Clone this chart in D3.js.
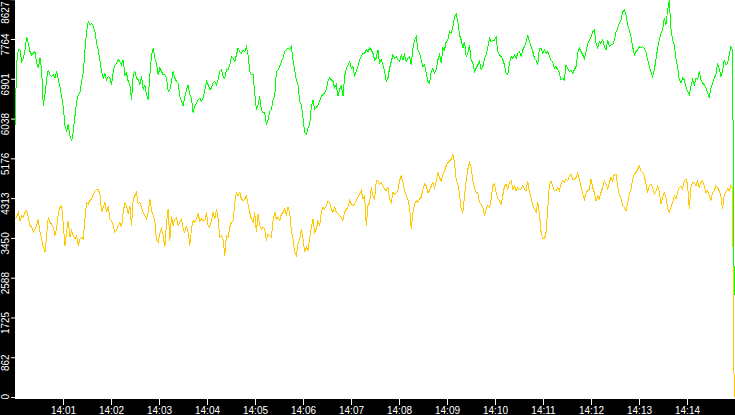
<!DOCTYPE html>
<html>
<head>
<meta charset="utf-8">
<script src="https://cdn.jsdelivr.net/npm/d3@7"></script>
<style>
    html, body { margin: 0; padding: 0; background: #000; }
    svg { display: block; }
</style>
</head>
<body>
<svg id="chart"></svg>
<script>
// first and last sample time, samples are evenly spaced in between
const startTime = new Date(2024, 0, 1, 14, 0, 0);
const endTime = new Date(2024, 0, 1, 14, 14, 59);

// x axis tick labels (one per minute)
const timeTicks = ["14:01", "14:02", "14:03", "14:04", "14:05", "14:06", "14:07",
    "14:08", "14:09", "14:10", "14:11", "14:12", "14:13", "14:14"];

// y axis tick labels
const valueTicks = [0, 862, 1725, 2588, 3450, 4313, 5176, 6038, 6901, 7764, 8627];

// green series
const greenValues = [
    5873,7239,7527,7527,7275,7347,7527,7814,7670,7491,
    7419,7455,7491,7239,7131,7347,7095,6305,6556,6880,
    7095,6987,6952,6987,6916,7059,6880,6736,6520,6305,
    5873,5765,5909,5657,5550,5765,6089,6412,6556,6592,
    6844,7023,7527,7922,8138,8066,8102,8030,7922,7670,
    7527,7311,7059,6916,7023,6880,6952,6916,6772,7059,
    7203,7239,7311,7275,7203,7311,6987,7023,6844,6772,
    6448,6987,7059,6916,6880,6772,6952,6664,6772,6556,
    6448,6987,7419,7563,7347,7239,6987,7131,7059,6987,
    6987,6916,6628,6664,6844,7059,6916,6844,6808,6520,
    6412,6305,6520,6664,6772,6556,6484,6161,6305,
    6376,6448,6484,6412,6484,6664,6844,6772,6664,6700,
    6808,6844,6772,6880,7059,7095,6952,6916,7095,7095,
    7203,7383,7347,7275,7419,7563,7491,7455,7527,7491,
    7599,7419,7059,6987,6987,6592,6233,6340,6520,6233,
    6161,6161,5909,6017,6197,6233,6448,6520,7059,7095,
    7167,7275,7347,7491,7527,7563,7527,7599,7311,7095,
    6880,6772,6412,6340,6053,5729,5693,5837,5909,6305,
    6448,6233,6269,6340,6412,6520,6556,6592,6664,6844,
    6916,6880,6844,6700,6772,6520,6664,6772,6520,6952,
    7131,7203,7275,7131,7167,6952,7059,7167,7311,7383,
    7455,7455,7527,7491,7563,7527,7455,7311,
    7347,7527,7239,7311,7203,7059,6844,6916,7131,7275,
    7419,7347,7383,7311,7275,7419,7311,7419,7275,7347,
    7383,7203,7563,7742,7814,7527,7455,7311,7167,7203,
    7023,6844,6808,7059,7131,7023,7095,7311,7419,7239,
    7563,7527,7706,7742,7922,7886,8030,8246,8317,8138,
    7850,7742,7563,7706,7383,7455,7635,7311,7239,7059,
    7131,7203,7275,7095,7167,7347,7419,7599,7778,7706,
    7742,7742,7814,7491,7419,7383,7311,7203,7023,6987,
    7239,7383,7347,7419,7347,7455,7491,7383,7527,7599,
    7706,7850,7706,7599,7491,7347,7311,7203,7563,7563,
    7455,7527,7455,7491,7383,7311,7275,7131,
    7167,7095,7023,6880,6916,6880,7203,7131,7059,7095,
    7023,7095,7167,7455,7563,7491,7419,7347,7491,7670,
    7742,7814,7922,7958,7670,7563,7706,7670,7742,7599,
    7527,7742,7599,7635,7635,7742,7922,7994,8102,8174,
    8353,8389,8282,8066,7958,7814,7599,7419,7491,7527,
    7599,7563,7599,7563,7491,7311,7167,7059,6952,7095,
    7311,7563,7742,7886,7958,8210,8066,8389,8600,7994,
    7742,7635,7347,7167,6880,6808,6916,6880,6736,6628,
    6556,6736,6880,6772,6916,6880,7059,6880,6808,6772,
    6700,6592,6484,6700,6808,6916,6987,7239,7131,6952,
    7059,7311,7203,7239,7419,7599,7527,2220
];

// orange series
const orangeValues = [
    3860,3896,4004,3824,3932,3896,4004,4040,3896,3716,
    3680,3573,3644,3716,3860,3573,3429,3249,3141,3501,
    3896,3788,3752,3680,3501,3644,3968,4112,4148,3752,
    3285,3573,3824,3465,3608,3501,3429,3501,3285,3429,
    3465,3429,3860,4220,4184,4256,4292,4399,4471,4507,
    4507,4399,4004,4112,4220,4004,4148,3860,3824,3716,
    3573,3608,3716,3788,3680,4004,4220,4148,3968,4148,
    3716,4292,4363,4435,4184,4220,4112,4004,3932,3860,
    4004,4292,4040,3932,3824,3393,3357,3537,3644,3501,
    3249,3788,4076,3393,3932,3716,3860,3896,3716,3788,
    3860,3644,3573,3716,3573,3285,3644,3824,3788,
    3860,3968,3824,3860,3824,3824,4004,3716,3680,3824,
    4004,3860,4076,3860,3465,3501,3429,3069,3501,3465,
    3680,3788,3824,4220,4435,4363,4435,4292,4256,4292,
    4363,4184,4004,3860,3788,4004,3573,3968,3716,3644,
    3680,3644,3393,3537,3501,3465,3824,4004,3860,3896,
    3824,3968,4004,4076,3932,4112,4004,3608,3429,3141,
    3069,3321,3429,3644,3429,3141,3249,3177,3429,3680,
    3860,3573,3644,3824,3716,4004,4112,4076,4148,4256,
    4220,4076,4004,4112,4004,3968,3932,3896,3824,4004,
    4076,4112,4256,4184,4148,4184,4256,4327,4399,4471,
    4292,4363,3716,4148,4220,4543,4363,4292,
    4687,4687,4615,4651,4579,4507,4471,4543,4292,4220,
    4435,4399,4435,4471,4687,4795,4651,4471,4363,4292,
    4112,3644,4004,4184,4256,4220,4292,4327,4507,4615,
    4579,4435,4471,4579,4651,4543,4687,4867,4759,4687,
    4831,4903,5010,5082,5118,5154,5262,5082,4723,4615,
    4399,4076,4004,4363,4687,4939,5082,4974,4687,4543,
    4435,4435,4220,4184,4112,3932,4076,4148,4112,4292,
    4579,4615,4435,4292,4256,4184,4363,4579,4615,4507,
    4651,4687,4507,4579,4471,4543,4507,4507,4579,4507,
    4471,4687,4435,4327,4148,4076,4004,4220,3968,3573,
    3429,3429,3573,4076,4615,4687,4579,4471,
    4471,4543,4471,4615,4687,4651,4723,4687,4795,4831,
    4723,4723,4759,4867,4723,4543,4399,4292,4435,4471,
    4507,4723,4543,4435,4256,4363,4292,4435,4543,4687,
    4615,4507,4651,4759,4687,4831,4831,4579,4399,4292,
    4148,4112,4040,4220,4399,4507,4723,4831,4867,4939,
    5010,4903,4867,4795,4615,4435,4579,4615,4543,4399,
    4471,4579,4471,4184,4327,4435,4327,4112,4004,4112,
    4220,4363,4292,4435,4543,4579,4507,4687,4723,4615,
    4076,4543,4651,4651,4579,4687,4543,4651,4687,4579,
    4435,4471,4363,4256,4435,4471,4579,4543,4471,4363,
    4076,4363,4435,4507,4471,4579,4543,0
];

const width = 735;
const height = 415;
const plotLeft = 15;     // black band on the left holds the y labels
const plotBottom = 399;  // black band at the bottom holds the time labels

const svg = d3.select("#chart")
    .attr("width", width)
    .attr("height", height)
    .style("font-family", "'DejaVu Sans', sans-serif");

// black background and white plot area
svg.append("rect").attr("width", width).attr("height", height).attr("fill", "#000");
svg.append("rect")
    .attr("x", plotLeft).attr("y", 0)
    .attr("width", width - plotLeft).attr("height", plotBottom)
    .attr("fill", "#fff");

// scales
const x = d3.scaleTime()
    .domain([new Date(2024, 0, 1, 14, 0, 0), new Date(2024, 0, 1, 14, 15, 0)])
    .range([plotLeft, width]);
const y = d3.scaleLinear()
    .domain([0, 8627])
    .range([397, -0.8]);

// time of sample i
const n = greenValues.length;
const step = (endTime - startTime) / (n - 1);
const timeAt = i => new Date(+startTime + i * step);

const line = d3.line()
    .x((d, i) => x(timeAt(i)))
    .y(d => y(d));

// orange under, green on top
svg.append("path")
    .datum(orangeValues)
    .attr("d", line)
    .attr("fill", "none")
    .attr("stroke", "rgb(255,200,0)")
    .attr("stroke-width", 1)
    .attr("shape-rendering", "crispEdges");
svg.append("path")
    .datum(greenValues)
    .attr("d", line)
    .attr("fill", "none")
    .attr("stroke", "rgb(0,255,0)")
    .attr("stroke-width", 1)
    .attr("shape-rendering", "crispEdges");

// x axis
const parseTick = d3.timeParse("%H:%M");
const tickDates = timeTicks.map(t => {
    const p = parseTick(t);
    return new Date(2024, 0, 1, p.getHours(), p.getMinutes(), 0);
});
const xAxis = svg.append("g")
    .attr("transform", `translate(0,${plotBottom})`)
    .call(d3.axisBottom(x)
        .tickValues(tickDates)
        .tickFormat(d3.timeFormat("%H:%M"))
        .tickSize(6)
        .tickPadding(1.5));
xAxis.select(".domain").remove();
xAxis.selectAll("line").attr("stroke", "#fff");
xAxis.selectAll("text")
    .attr("fill", "#fff")
    .style("font-size", "10px");

// y axis, labels rotated and kept inside the band
const yAxis = svg.append("g")
    .attr("transform", `translate(${plotLeft},0)`)
    .call(d3.axisLeft(y)
        .tickValues(valueTicks)
        .tickFormat(d => String(d))
        .tickSize(4));
yAxis.select(".domain").remove();
yAxis.selectAll("line").attr("stroke", "#fff");
yAxis.selectAll("text")
    .attr("fill", "#fff")
    .style("font-size", "10px")
    .attr("x", null)
    .attr("dy", null)
    .attr("text-anchor", "middle")
    .each(function(d) {
        const half = this.getComputedTextLength() / 2;
        const ty = y(d);
        const cy = Math.max(half + 1, Math.min(plotBottom - half, ty + 5));
        d3.select(this).attr("transform", `translate(-5.7,${cy - ty}) rotate(-90)`);
    });
</script>
</body>
</html>
